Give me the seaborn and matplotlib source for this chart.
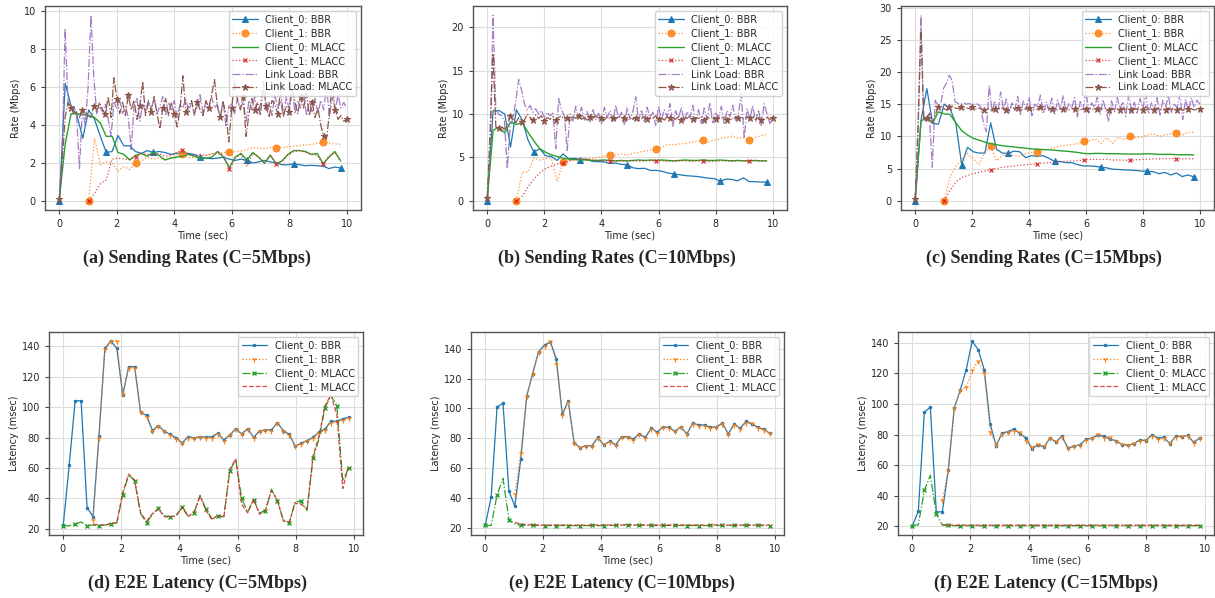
import matplotlib
matplotlib.use("Agg")
import matplotlib.pyplot as plt
import numpy as np
import seaborn as sns

# sampling grids (seconds)
RATE_T = np.round(np.arange(49) * 0.204, 3)       # client samples, 0 .. 9.8 s
LINK_T = np.round(np.arange(101) * 0.1, 2)        # link load samples, 0 .. 10 s
LAT_T = np.round(0.02 + np.arange(49) * 0.204, 3)  # latency samples

CAPACITIES = [5, 10, 15]

# ---- sending rates (Mbps) ----
bbr_c0_rate = {
    5: [0, 6.2, 5.0, 4.5, 3.3, 4.8, 4.3, 3.4, 2.55, 2.6,
        3.45, 2.9, 2.9, 2.6, 2.5, 2.65, 2.55, 2.6, 2.55, 2.45,
        2.5, 2.55, 2.5, 2.45, 2.3, 2.25, 2.22, 2.25, 2.3, 2.2,
        2.13, 2.2, 2.13, 2.0, 2.05, 2.13, 2.05, 2.0, 1.9, 1.9,
        1.95, 1.9, 1.85, 1.87, 1.85, 1.83, 1.7, 1.78, 1.73],
    10: [0, 10.4, 10.4, 10.0, 6.2, 10.5, 9.3, 7.0, 5.6, 6.0,
         5.2, 5.1, 4.65, 5.4, 4.85, 4.9, 4.75, 4.8, 4.55, 4.5,
         4.5, 4.3, 4.35, 4.2, 4.15, 3.8, 3.7, 3.75, 3.5, 3.5,
         3.4, 3.2, 3.1, 3.0, 2.9, 2.85, 2.8, 2.7, 2.6, 2.55,
         2.25, 2.5, 2.45, 2.3, 2.65, 2.2, 2.2, 2.15, 2.15],
    15: [0, 12.5, 17.4, 12.0, 11.9, 15.0, 14.3, 12.0, 5.6, 8.3,
         7.6, 7.4, 7.4, 12.1, 8.0, 7.4, 7.35, 7.7, 7.6, 6.7,
         7.0, 6.9, 7.0, 6.6, 6.1, 6.1, 5.9, 5.9, 5.6, 5.4,
         5.4, 5.35, 5.2, 5.1, 4.9, 4.85, 4.8, 4.75, 4.7, 4.6,
         4.6, 4.5, 4.2, 4.4, 4.0, 4.3, 3.75, 4.0, 3.7],
}
bbr_c1_rate = {
    5: [0, 3.3, 1.9, 2.05, 2.0, 1.55, 1.8, 1.65, 1.97, 2.1,
        2.3, 2.2, 2.25, 2.2, 2.3, 2.4, 2.45, 2.25, 2.3, 2.35,
        2.4, 2.5, 2.45, 2.55, 2.57, 2.6, 2.63, 2.7, 2.8, 2.78,
        2.75, 2.8, 2.78, 2.82, 2.84, 2.88, 2.92, 2.95, 2.98, 3.02,
        3.1, 3.05, 3.0, 2.98],
    10: [0, 3.3, 3.3, 4.95, 4.7, 4.85, 4.9, 2.2, 4.5, 4.6,
         4.7, 4.8, 4.85, 4.9, 5.0, 5.1, 5.3, 5.25, 5.4, 5.25,
         5.45, 5.6, 5.7, 5.85, 6.0, 6.2, 6.5, 6.45, 6.55, 6.6,
         6.75, 6.85, 6.95, 6.75, 7.0, 7.15, 7.3, 7.45, 7.2, 7.35,
         6.95, 7.3, 7.5, 7.65],
    15: [0, 3.7, 5.3, 6.4, 7.3, 6.5, 5.6, 7.6, 8.5, 6.2,
         7.0, 7.3, 7.0, 6.9, 7.3, 7.5, 7.6, 7.9, 8.0, 8.3,
         8.5, 8.6, 8.7, 8.9, 9.2, 9.3, 9.6, 8.9, 9.8, 8.9,
         9.9, 9.5, 10.0, 9.8, 9.9, 10.2, 10.4, 10.0, 10.2, 10.4,
         10.5, 10.2, 10.6, 10.6],
}
mlacc_c0_rate = {
    5: [0.1, 3.0, 4.6, 4.6, 4.55, 4.5, 4.4, 4.1, 3.4, 3.4,
        2.55, 2.45, 2.15, 2.4, 2.5, 2.35, 2.55, 2.4, 2.15, 2.25,
        2.3, 2.35, 2.45, 2.35, 2.22, 2.25, 2.3, 2.6, 2.3, 1.75,
        2.3, 2.5, 2.15, 2.55, 2.3, 1.98, 2.4, 1.95, 2.1, 2.45,
        2.65, 2.65, 2.6, 2.45, 2.5, 1.95, 2.3, 2.6, 2.1],
    10: [0.2, 8.1, 8.5, 7.8, 9.1, 8.8, 9.0, 7.9, 6.9, 6.0,
         5.6, 5.3, 5.1, 4.9, 4.8, 4.75, 4.7, 4.7, 4.65, 4.65,
         4.7, 4.65, 4.6, 4.65, 4.6, 4.65, 4.7, 4.65, 4.7, 4.65,
         4.7, 4.65, 4.6, 4.65, 4.7, 4.65, 4.65, 4.7, 4.65, 4.65,
         4.7, 4.65, 4.6, 4.65, 4.6, 4.6, 4.65, 4.6, 4.6],
    15: [0.2, 12.4, 12.9, 12.1, 13.8, 13.5, 13.4, 12.1, 10.9, 10.2,
         9.7, 9.4, 9.1, 8.85, 8.7, 8.55, 8.45, 8.35, 8.25, 8.15,
         8.05, 8.0, 7.95, 7.9, 7.85, 7.75, 7.7, 7.6, 7.5, 7.35,
         7.3, 7.35, 7.35, 7.3, 7.3, 7.3, 7.25, 7.25, 7.25, 7.25,
         7.3, 7.25, 7.2, 7.2, 7.2, 7.15, 7.15, 7.15, 7.1],
}
mlacc_c1_rate = {
    5: [0, 0.4, 0.9, 1.1, 2.2, 2.25, 2.2, 2.2, 2.33, 2.5,
        2.45, 2.4, 2.5, 2.35, 2.4, 2.55, 2.7, 2.45, 2.4, 2.45,
        2.4, 2.45, 2.6, 2.4, 1.66, 2.25, 2.45, 1.8, 2.5, 2.3,
        2.0, 2.45, 1.95, 2.1, 2.4, 2.6, 2.65, 2.55, 2.45, 2.4,
        1.95, 2.35, 2.55, 2.1],
    10: [0, 0.5, 1.6, 2.5, 3.2, 3.7, 4.0, 4.25, 4.35, 4.6,
         4.75, 4.8, 4.75, 4.7, 4.65, 4.6, 4.6, 4.55, 4.6, 4.6,
         4.6, 4.55, 4.6, 4.6, 4.6, 4.6, 4.55, 4.6, 4.6, 4.6,
         4.55, 4.6, 4.55, 4.5, 4.55, 4.6, 4.6, 4.55, 4.6, 4.6,
         4.6, 4.6, 4.55, 4.6],
    15: [0, 1.6, 2.9, 3.6, 3.9, 4.2, 4.4, 4.6, 4.8, 5.0,
         5.2, 5.3, 5.4, 5.5, 5.6, 5.65, 5.75, 5.85, 5.9, 6.0,
         6.05, 6.1, 6.15, 6.2, 6.35, 6.4, 6.45, 6.4, 6.45, 6.3,
         6.35, 6.3, 6.25, 6.35, 6.4, 6.45, 6.5, 6.5, 6.55, 6.55,
         6.55, 6.5, 6.55, 6.5],
}
link_bbr = {
    5: [0.2, 2.5, 9.1, 5.2, 4.8, 5.0, 4.5, 1.7, 4.8, 4.0,
        6.0, 9.8, 6.5, 4.6, 5.0, 4.7, 5.1, 4.3, 3.4, 5.2,
        4.9, 5.3, 4.6, 5.0, 4.4, 2.7, 5.0, 5.4, 4.2, 5.1,
        4.7, 5.3, 4.9, 5.4, 4.6, 5.0, 5.5, 4.5, 5.2, 4.8,
        5.3, 4.4, 5.1, 4.9, 5.4, 4.7, 5.2, 4.5, 5.0, 5.6,
        4.6, 5.2, 4.8, 5.5, 4.9, 5.1, 4.4, 5.3, 3.9, 5.0,
        5.1, 4.6, 5.4, 4.9, 5.2, 4.2, 5.3, 4.8, 5.5, 4.6,
        5.1, 6.0, 4.7, 5.2, 4.5, 5.6, 4.9, 5.3, 4.4, 5.5,
        4.8, 6.2, 4.6, 5.3, 4.9, 5.8, 4.5, 5.2, 4.7, 5.4,
        4.6, 5.3, 4.8, 6.1, 4.4, 5.5, 4.7, 5.6, 4.9, 5.2,
        4.9],
    10: [0.3, 6.0, 21.4, 10.5, 10.0, 9.8, 9.2, 3.7, 8.5, 9.5,
         11.5, 14.0, 12.8, 11.2, 10.5, 11.0, 10.2, 10.6, 10.0, 10.4,
         9.6, 10.2, 9.8, 10.1, 6.0, 11.8, 10.5, 9.8, 5.8, 10.0,
         9.2, 10.9, 9.5, 10.8, 9.3, 10.3, 9.0, 10.6, 9.4, 10.1,
         8.9, 10.8, 9.6, 10.4, 9.1, 11.0, 9.5, 10.2, 8.8, 10.7,
         9.4, 10.3, 12.0, 9.2, 10.5, 9.0, 10.8, 9.6, 10.2, 8.7,
         10.9, 9.3, 10.5, 9.7, 11.2, 8.6, 10.4, 9.5, 10.8, 9.1,
         10.3, 9.6, 11.0, 9.2, 10.5, 8.9, 10.7, 9.4, 11.3, 9.0,
         10.2, 9.6, 10.9, 8.8, 10.4, 9.7, 11.0, 9.3, 10.1, 12.3,
         7.2, 10.6, 9.4, 11.0, 9.1, 10.5, 8.7, 11.2, 10.0, 8.9,
         9.5],
    15: [0.3, 10.0, 28.8, 12.6, 12.3, 13.0, 5.2, 15.6, 14.8, 15.2,
         17.5, 18.3, 19.5, 18.6, 15.4, 15.1, 15.0, 15.2, 15.0, 15.1,
         14.9, 15.1, 15.0, 14.6, 12.0, 10.7, 17.9, 13.8, 15.5, 13.5,
         16.9, 14.2, 15.8, 13.6, 15.2, 14.0, 16.2, 13.4, 15.5, 14.3,
         16.0, 13.2, 15.0, 14.6, 16.4, 13.5, 15.3, 14.0, 15.9, 13.3,
         15.6, 14.2, 16.3, 13.7, 15.1, 14.4, 16.0, 13.0, 15.4, 14.1,
         17.2, 13.6, 15.2, 14.5, 16.1, 13.4, 15.7, 14.0, 12.3, 15.5,
         13.8, 16.0, 14.2, 15.4, 13.1, 16.4, 14.0, 15.3, 13.6, 15.9,
         14.3, 16.6, 13.5, 15.2, 14.1, 16.0, 13.3, 15.6, 14.6, 16.3,
         13.7, 15.1, 14.4, 16.5, 12.6, 15.8, 13.9, 16.0, 14.5, 15.6,
         15.0],
}
link_mlacc = {
    5: [0.1, 2.0, 4.4, 5.2, 4.9, 4.6, 4.7, 4.4, 4.8, 4.7,
        4.5, 4.4, 5.0, 4.7, 5.2, 4.8, 4.6, 5.5, 4.4, 6.5,
        5.4, 4.6, 5.2, 4.5, 5.6, 4.8, 5.3, 4.3, 5.0, 6.3,
        4.5, 5.2, 4.7, 5.5, 4.6, 3.8, 4.9, 5.4, 4.5, 5.2,
        4.6, 3.9, 4.8, 6.6, 4.7, 5.0, 5.3, 4.6, 5.2, 4.8,
        4.5, 5.3, 4.9, 5.6, 6.4, 5.0, 4.4, 5.2, 4.6, 3.1,
        4.9, 6.4, 5.3, 4.8, 5.5, 3.4, 4.6, 5.4, 4.8, 5.2,
        4.5, 6.3, 5.0, 4.4, 5.3, 5.1, 4.6, 5.8, 4.5, 5.0,
        4.7, 5.9, 5.2, 4.6, 5.5, 4.9, 5.7, 4.5, 5.2, 4.4,
        4.9, 4.0, 3.4, 3.3, 4.6, 6.2, 4.8, 4.3, 4.5, 4.2,
        4.3],
    10: [0.3, 8.0, 17.0, 8.5, 8.4, 8.6, 8.2, 8.6, 9.8, 9.4,
         9.0, 9.6, 9.1, 9.3, 10.0, 9.6, 9.3, 9.9, 9.5, 9.8,
         9.2, 9.6, 9.4, 9.7, 9.3, 9.6, 9.8, 9.4, 9.6, 9.1,
         9.7, 9.5, 9.8, 9.4, 9.6, 9.3, 9.7, 9.5, 9.8, 9.4,
         9.6, 9.3, 9.7, 9.5, 9.6, 9.4, 9.8, 9.5, 9.6, 9.3,
         9.7, 9.4, 9.6, 9.2, 9.5, 9.7, 9.4, 9.6, 9.5, 9.8,
         9.4, 9.6, 9.3, 9.7, 9.5, 9.6, 9.4, 9.7, 9.3, 9.6,
         9.5, 9.8, 9.4, 9.6, 9.5, 9.7, 9.3, 9.6, 9.5, 9.8,
         9.4, 9.6, 9.5, 9.7, 9.3, 9.6, 9.4, 9.7, 9.5, 9.6,
         9.4, 9.7, 9.5, 9.8, 9.4, 9.6, 9.3, 9.5, 9.6, 9.4,
         9.5],
    15: [0.2, 12.0, 26.6, 12.5, 12.8, 13.6, 12.0, 13.2, 14.5, 14.7,
         14.3, 14.1, 14.6, 14.7, 14.4, 14.3, 14.5, 14.2, 14.4, 14.3,
         14.5, 14.2, 14.4, 14.3, 14.1, 14.2, 14.4, 14.0, 14.3, 14.5,
         14.2, 14.4, 14.1, 14.3, 14.5, 14.2, 14.4, 14.0, 14.3, 14.2,
         14.4, 14.1, 14.3, 14.2, 14.5, 14.1, 14.3, 14.4, 14.2, 14.4,
         14.1, 14.3, 14.2, 14.4, 14.1, 14.3, 14.2, 14.4, 14.1, 14.3,
         14.2, 14.4, 14.1, 14.3, 14.2, 14.4, 14.2, 14.3, 14.1, 14.4,
         14.2, 14.3, 14.1, 14.4, 14.2, 14.3, 14.1, 14.4, 14.2, 14.3,
         14.1, 14.6, 14.2, 14.3, 14.1, 14.4, 14.2, 14.3, 14.1, 14.4,
         14.2, 14.3, 14.1, 14.4, 14.0, 14.3, 14.2, 14.3, 14.1, 14.2,
         14.3],
}

# ---- end-to-end latency (msec) ----
bbr_c0_lat = {
    5: [22.5, 62, 104.3, 104, 34, 28, 81, 138.7, 143.3, 138.7,
        108, 126.6, 126.6, 96.6, 94.5, 84.6, 87.9, 84, 82, 79.8,
        76.3, 80.6, 79.8, 80.6, 80.2, 80.6, 82.8, 78.4, 81.7, 85.7,
        82.4, 85.7, 80.2, 84.2, 85, 85, 89.8, 84.6, 82, 74.3,
        76.3, 78, 80.2, 83.5, 85.7, 90.7, 90.7, 92.3, 93.4],
    10: [21.6, 40.5, 101, 103.3, 44.5, 34.5, 66, 108.4, 123.3, 138,
         142.5, 144.5, 133, 96, 105, 77, 73.5, 75, 75, 80.5,
         75.5, 78, 75.6, 81, 81, 79.5, 83, 80.5, 86.8, 84,
         87.7, 87.2, 84.6, 87.7, 82.8, 90, 89, 88.8, 87.2, 87.7,
         90, 83, 89.5, 86.6, 91.3, 89.5, 87.2, 86, 83.3],
    15: [20.4, 30, 94.5, 98, 29.5, 29.5, 56.7, 97.3, 109, 122.5,
         141, 135.5, 122.5, 87, 72.7, 81, 82, 83.7, 80.4, 77.8,
         70.5, 73.5, 71.8, 77.8, 75, 79, 71, 72.4, 73.5, 76.8,
         77.6, 79.6, 79.1, 77, 76, 73.5, 73, 74, 76.5, 76.1,
         79.8, 77.8, 78.3, 74, 79, 78.7, 79.4, 75, 77.8],
}
bbr_c1_lat = {
    5: [26, 80, 138, 143.3, 143.3, 108.5, 126, 126, 97, 93.5,
        84, 87.5, 84.5, 81.5, 79, 76.5, 80, 79.5, 80.4, 80,
        79.5, 82.5, 78, 81.5, 85.5, 82, 85.5, 80, 84, 85,
        84.5, 89.5, 84.4, 81.5, 74.5, 76, 78, 79.5, 83, 85,
        89.5, 90.5, 91.2, 93],
    10: [42.5, 70, 108, 123, 138, 142, 145, 130, 95.5, 104,
         76.5, 74, 75, 74.5, 80, 75.8, 77.5, 75.2, 80.5, 80.5,
         79, 82.5, 80, 86.5, 83.5, 87.3, 86.6, 84.8, 87.4, 83,
         89.7, 88.5, 88.3, 86.8, 87.5, 89.7, 82.5, 89, 86.5, 90.5,
         90.5, 87, 85.5, 83.2],
    15: [37, 57, 97.5, 109, 111, 122, 128, 120, 82, 73.5,
         80.5, 81.5, 82.5, 81.5, 76, 72, 73.8, 72.5, 77.5, 75.5,
         78.5, 71.5, 72.8, 73, 76.5, 77.5, 80.5, 78, 78.5, 75.5,
         73.8, 73.2, 74.2, 76, 76.5, 79.3, 77, 77.5, 74.5, 78.5,
         79, 78.8, 74.8, 77.5],
}
mlacc_c0_lat = {
    5: [22, 22, 23, 24.5, 22, 22.5, 22, 22.5, 23, 24,
        42, 55.5, 51.5, 30, 24, 29.5, 33.5, 28.5, 28, 28.5,
        34.5, 28.5, 30.5, 42, 33, 26.5, 28.5, 28, 58, 65.5,
        40, 31, 39, 30.5, 32, 46, 38.5, 26, 24, 38,
        38, 32, 66.5, 79, 99.5, 107.5, 101, 51.5, 60],
    10: [21.5, 21.5, 42, 53, 25.5, 22.5, 21.5, 21.7, 21.6, 21.5,
         21.4, 21.5, 21.4, 21.5, 21.4, 21.4, 21.3, 21.4, 21.5, 21.4,
         21.4, 21.6, 21.5, 21.7, 22, 21.8, 21.7, 21.6, 21.5, 21.5,
         21.5, 21.5, 21.5, 21.5, 21.4, 21.5, 21.4, 21.4, 21.5, 21.5,
         21.6, 21.5, 21.5, 21.5, 21.6, 21.7, 21.5, 21.4, 21.4],
    15: [20.5, 21, 43.5, 53.5, 28, 21, 20.6, 20.5, 20.5, 20.5,
         20.5, 20.5, 20.5, 20.5, 20.5, 20.5, 20.5, 20.5, 20.5, 20.5,
         20.5, 20.5, 20.5, 20.5, 20.5, 20.5, 20.5, 20.5, 20.5, 20.5,
         20.5, 20.5, 20.5, 20.5, 20.5, 20.5, 20.5, 20.5, 20.5, 20.5,
         20.5, 20.5, 20.5, 20.5, 20.5, 20.5, 20.5, 20.5, 20.5],
}
mlacc_c1_lat = {
    5: [23, 22.5, 22.5, 23.5, 24, 44, 56, 52, 30.5, 25,
        30, 33, 28, 27.5, 29, 34, 28, 31, 41.5, 32,
        26, 29, 27.5, 59, 66, 36, 30.5, 39.5, 29.5, 32.5,
        45, 39, 25, 24.5, 37, 36, 33, 68, 81, 101,
        108, 95, 46.5, 62],
    10: [23.5, 22.5, 22.0, 21.9, 21.8, 21.8, 21.7, 21.8, 21.8, 21.7,
         21.7, 21.8, 21.7, 21.7, 21.8, 21.9, 21.8, 21.8, 21.8, 21.9,
         21.8, 21.8, 21.8, 21.7, 21.8, 21.8, 21.8, 21.8, 21.8, 21.8,
         21.8, 21.8, 21.8, 21.8, 21.9, 21.8, 21.8, 21.8, 21.8, 21.8,
         21.8, 21.8, 21.8, 21.8],
    15: [21.0, 20.9, 20.8, 20.8, 20.8, 20.8, 20.8, 20.8, 20.8, 20.8,
         20.8, 20.8, 20.8, 20.8, 20.8, 20.8, 20.8, 20.8, 20.8, 20.8,
         20.8, 20.8, 20.8, 20.8, 20.8, 20.8, 20.8, 20.8, 20.8, 20.8,
         20.8, 20.8, 20.8, 20.8, 20.8, 20.8, 20.8, 20.8, 20.8, 20.8,
         20.8, 20.8, 20.8, 20.8],
}

RATE_CAPTIONS = ["(a) Sending Rates (C=5Mbps)", "(b) Sending Rates (C=10Mbps)",
                 "(c) Sending Rates (C=15Mbps)"]
LAT_CAPTIONS = ["(d) E2E Latency (C=5Mbps)", "(e) E2E Latency (C=10Mbps)",
                "(f) E2E Latency (C=15Mbps)"]

pal = sns.color_palette("tab10")

sns.set_style("ticks")
plt.rcParams["font.family"] = ["DejaVu Sans"]


def line(ax, x, y, color, ls="-", lw=1.0, label=None, **kw):
    sns.lineplot(x=x, y=y, ax=ax, color=color, linestyle=ls, linewidth=lw,
                 label=label, legend=False, sort=False, **kw)


def style_axes(ax, ylabel):
    ax.grid(True, color="#dcdcdc", linewidth=0.8)
    ax.set_axisbelow(True)
    ax.set_xticks([0, 2, 4, 6, 8, 10])
    ax.tick_params(labelsize=7, length=3, width=0.8, color="#444444")
    for s in ax.spines.values():
        s.set_color("#555555")
        s.set_linewidth(1.0)
    ax.set_xlabel("Time (sec)", fontsize=7, labelpad=1)
    ax.set_ylabel(ylabel, fontsize=7, labelpad=2)
    ax.legend(loc="upper right", fontsize=7, handlelength=2.6,
              borderpad=0.35, labelspacing=0.3, framealpha=0.85)


def plot_rates(ax, cap):
    t1 = RATE_T[5:]
    line(ax, RATE_T, bbr_c0_rate[cap], pal[0], "-", 0.9, "Client_0: BBR",
         marker="^", markevery=8, markersize=4, markeredgecolor=pal[0])
    line(ax, t1, bbr_c1_rate[cap], pal[1], ":", 0.9, "Client_1: BBR",
         marker="o", markevery=8, markersize=5, markeredgecolor=pal[1], alpha=0.85)
    line(ax, RATE_T, mlacc_c0_rate[cap], pal[2], "-", 1.0, "Client_0: MLACC")
    line(ax, t1, mlacc_c1_rate[cap], pal[3], ":", 0.9, "Client_1: MLACC",
         marker="x", markevery=8, markersize=3.5, markeredgecolor=pal[3],
         markeredgewidth=1.0, alpha=0.85)
    line(ax, LINK_T, link_bbr[cap], pal[4], "-.", 0.9, "Link Load: BBR", alpha=0.85)
    line(ax, LINK_T, link_mlacc[cap], pal[5], "-.", 0.9, "Link Load: MLACC",
         marker="*", markevery=4, markersize=4.5, markeredgecolor=pal[5])
    style_axes(ax, "Rate (Mbps)")


def plot_latency(ax, cap):
    t1 = LAT_T[5:]
    line(ax, LAT_T, bbr_c0_lat[cap], pal[0], "-", 0.9, "Client_0: BBR",
         marker=".", markersize=3.5, markeredgecolor=pal[0])
    line(ax, t1, bbr_c1_lat[cap], pal[1], ":", 0.9, "Client_1: BBR",
         marker="1", markersize=4, markeredgecolor=pal[1], markeredgewidth=0.9)
    line(ax, LAT_T, mlacc_c0_lat[cap], pal[2], "-.", 0.9, "Client_0: MLACC",
         marker="x", markevery=2, markersize=3.5, markeredgecolor=pal[2],
         markeredgewidth=1.0)
    line(ax, t1, mlacc_c1_lat[cap], pal[3], "--", 0.9, "Client_1: MLACC", alpha=0.85)
    style_axes(ax, "Latency (msec)")


fig = plt.figure(figsize=(12.15, 5.98), dpi=100)

W, H = 1215.0, 598.0
rate_boxes = [(45, 6, 316, 204), (473, 6, 314, 204), (901, 6, 313, 204)]
lat_boxes = [(49, 332, 314, 203), (471, 332, 313, 203), (898, 332, 316, 203)]
rate_cap_x = [197, 617, 1044]
lat_cap_x = [197, 622, 1046]

for i, cap in enumerate(CAPACITIES):
    x, y, w, h = rate_boxes[i]
    ax = fig.add_axes([x / W, 1 - (y + h) / H, w / W, h / H])
    plot_rates(ax, cap)
    fig.text(rate_cap_x[i] / W, 1 - 258 / H, RATE_CAPTIONS[i], ha="center", va="center",
             fontsize=13, fontweight="bold", family="Liberation Serif")

    x, y, w, h = lat_boxes[i]
    ax = fig.add_axes([x / W, 1 - (y + h) / H, w / W, h / H])
    plot_latency(ax, cap)
    fig.text(lat_cap_x[i] / W, 1 - 583 / H, LAT_CAPTIONS[i], ha="center", va="center",
             fontsize=13, fontweight="bold", family="Liberation Serif")

fig.savefig("out.png", dpi=100)
plt.close(fig)
